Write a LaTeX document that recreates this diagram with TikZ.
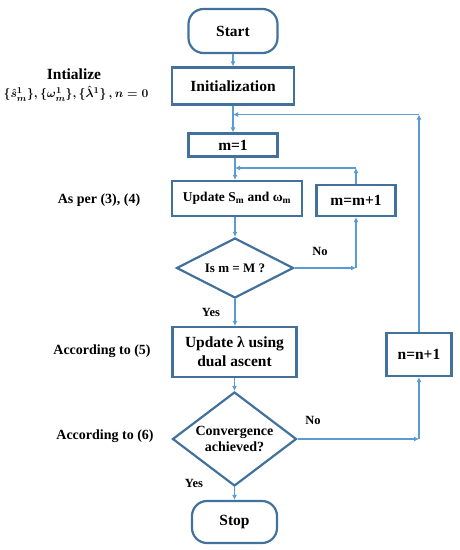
\documentclass[tikz,border=0pt]{standalone}
\usepackage{amsmath}
\usepackage{fontspec}
\setmainfont{Liberation Serif}
\usetikzlibrary{shapes.geometric,arrows.meta,positioning,calc}
\definecolor{boxline}{HTML}{41719C}
\definecolor{flowline}{HTML}{5B9BD5}
\newcommand{\initvals}{$\boldsymbol{\{\hat{s}_m^1\}, \{\omega_m^1\}, \{\hat{\lambda}^1\}\,, n=0}$}

\begin{document}
\begin{tikzpicture}[
    x=1pt, y=-1pt,
    font=\bfseries\fontsize{15.5}{17}\selectfont,
    box/.style={rectangle, draw=boxline, line width=2.2pt, inner sep=0pt, align=center},
    term/.style={box, rounded corners=15pt},
    cond/.style={diamond, draw=boxline, line width=2.2pt, inner sep=0pt, align=center},
    sidenote/.style={font=\bfseries\fontsize{14}{16}\selectfont},
    tag/.style={font=\bfseries\fontsize{12.5}{14}\selectfont},
    arrow/.style={-{Latex[length=5pt,width=5pt]}, draw=flowline, line width=1.6pt}
]
\useasboundingbox (0,0) rectangle (459,550);

% main column
\node[term, minimum width=89pt, minimum height=44pt] (start) at (233,31) {Start};
\node[box, minimum width=122pt, minimum height=37pt] (init) at (233,86) {Initialization};
\node[box, minimum width=89pt, minimum height=23pt] (m1) at (233,145) {m=1};
\node[box, minimum width=130pt, minimum height=35pt, font=\bfseries\fontsize{13.5}{15}\selectfont] (upd) at (237,198.5) {Update S\textsubscript{m} and ω\textsubscript{m}};
\node[cond, shape aspect=2, minimum width=117pt, minimum height=60pt, font=\bfseries\fontsize{13}{15}\selectfont] (d1) at (235,268) {Is m = M ?};
\node[box, minimum width=124pt, minimum height=50pt, font=\bfseries\fontsize{15.5}{19}\selectfont] (lam) at (234.5,352) {Update λ using\\dual ascent};
\node[cond, shape aspect=1.32, minimum width=124pt, minimum height=94pt, font=\bfseries\fontsize{14}{16}\selectfont] (d2) at (234.5,439) {Convergence\\achieved?};
\node[term, minimum width=85pt, minimum height=42pt] (stop) at (234.5,522) {Stop};

% loop boxes
\node[box, minimum width=79pt, minimum height=31pt] (mm) at (356,200.5) {m=m+1};
\node[box, minimum width=65pt, minimum height=43pt] (nn) at (419,354.5) {n=n+1};

% side notes
\node[font=\bfseries\fontsize{15.5}{17}\selectfont] (ini) at (74,74) {Intialize};
\node[sidenote, font=\bfseries\fontsize{12.3}{14}\selectfont] (inivals) at (76,94) {\initvals};
\node[sidenote] (eq34) at (99,200) {As per (3), (4)};
\node[sidenote] (eq5) at (102,351) {According to (5)};
\node[sidenote] (eq6) at (105,436) {According to (6)};

\node[tag] (no1) at (320,251) {No};
\node[tag] (yes1) at (211,312) {Yes};
\node[tag] (no2) at (313,420) {No};
\node[tag] (yes2) at (194,483) {Yes};

\coordinate (hm) at (0,168);
\coordinate (hn) at (0,114.5);
\coordinate (loopm) at (mm.north |- hm);
\coordinate (loopn) at (nn.north |- hn);

\draw[arrow] (start) -- (init);
\draw[arrow] (init) -- (m1);
\draw[arrow] (m1.south -| d1) -- (upd.north -| d1);
\draw[arrow] (upd.south -| d1) -- (d1);
\draw[arrow] (d1) -- (d1 -| mm);
\draw[arrow] (d1 -| mm) -- (mm);
\draw[arrow] (mm) -- (loopm);
\draw[arrow] (loopm) -- (loopm -| d1);
\draw[arrow] (d1.south) -- (d1.south |- lam.north);
\draw[arrow] (lam) -- (d2);
\draw[arrow] (d2) -- (d2 -| nn);
\draw[arrow] (d2 -| nn) -- (nn);
\draw[arrow] (nn) -- (loopn);
\draw[arrow] (loopn) -- (loopn -| init);
\draw[arrow] (d2) -- (stop);

\end{tikzpicture}
\end{document}
